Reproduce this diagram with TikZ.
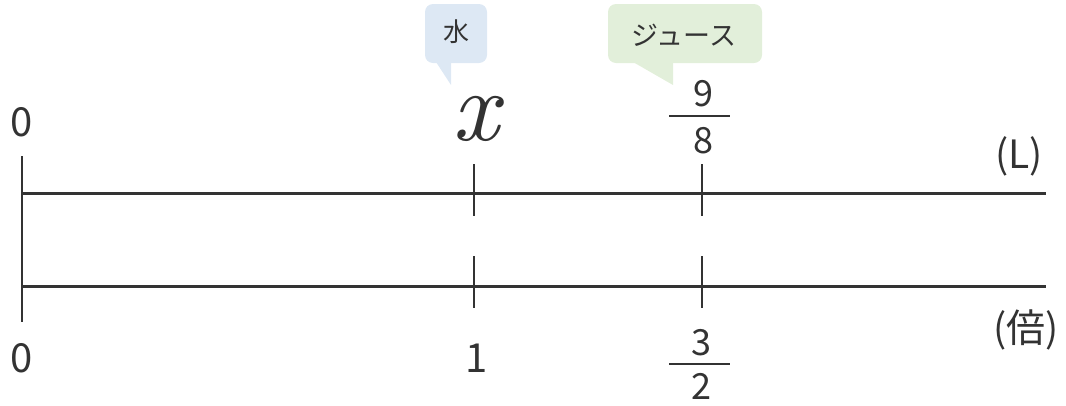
\documentclass[tikz,border=0pt]{standalone}
\usepackage{fontspec}
\setmainfont{Noto Sans CJK JP}
\newfontfamily\lmitalic{lmroman10-italic.otf}
\definecolor{ink}{HTML}{333333}
\definecolor{bluebg}{HTML}{DDE8F4}
\definecolor{greenbg}{HTML}{E2EFDA}
\begin{document}
\begin{tikzpicture}[x=1pt,y=-1pt,
  axisline/.style={line width=3pt, draw=ink},
  tickline/.style={line width=1.6pt, draw=ink},
  barline/.style={line width=1.4pt, draw=ink},
  numlbl/.style={text=ink, inner sep=0pt, font=\fontsize{40}{40}\selectfont},
  fraclbl/.style={text=ink, inner sep=0pt, font=\fontsize{36}{36}\selectfont},
  unitlbl/.style={text=ink, inner sep=0pt, font=\fontsize{39}{39}\selectfont},
  calltxt/.style={text=ink, inner sep=0pt}]
\useasboundingbox (0,0) rectangle (1066,405);
% axes
\coordinate (A0) at (22,193); \coordinate (A1) at (1046,193);
\coordinate (B0) at (22,286); \coordinate (B1) at (1046,286);
\coordinate (V0) at (22,156); \coordinate (V1) at (22,322);
\draw[axisline] (A0) -- (A1);
\draw[axisline] (B0) -- (B1);
\draw[tickline] (V0) -- (V1);
% ticks
\coordinate (t1a) at (474,164); \coordinate (t1b) at (474,216);
\coordinate (t2a) at (474,256); \coordinate (t2b) at (474,308);
\coordinate (t3a) at (702,164); \coordinate (t3b) at (702,216);
\coordinate (t4a) at (702,256); \coordinate (t4b) at (702,308);
\draw[tickline] (t1a) -- (t1b);
\draw[tickline] (t2a) -- (t2b);
\draw[tickline] (t3a) -- (t3b);
\draw[tickline] (t4a) -- (t4b);
% labels
\node[numlbl] (z0) at (22,122) {0};
\node[numlbl] (z1) at (22,358) {0};
\node[numlbl] (one) at (477,358) {1};
\node[text=ink, inner sep=0pt, font=\lmitalic\fontsize{100}{100}\selectfont] (xv) at (476,119) {x};
\node[unitlbl] (uL) at (1019,156) {(L)};
\node[unitlbl] (ub) at (1026,330) {(倍)};
% fractions
\node[fraclbl] (n9) at (703,94) {9};
\node[fraclbl] (n8) at (703,141) {8};
\coordinate (f1a) at (669,116); \coordinate (f1b) at (730,116);
\draw[barline] (f1a) -- (f1b);
\node[fraclbl] (n3) at (701,343) {3};
\node[fraclbl] (n2) at (701,386) {2};
\coordinate (f2a) at (669,364); \coordinate (f2b) at (730,364);
\draw[barline] (f2a) -- (f2b);
% callouts
\fill[bluebg, rounded corners=8pt] (425,4) rectangle (487,63);
\fill[bluebg] (436,62) -- (451,85) -- (451,62) -- cycle;
\node[calltxt, font=\fontsize{26}{26}\selectfont] (cw) at (456,32) {水};
\fill[greenbg, rounded corners=8pt] (608,4) rectangle (762,63);
\fill[greenbg] (633,62) -- (673,85) -- (673,62) -- cycle;
\node[calltxt, font=\fontsize{27}{27}\selectfont] (cj) at (684,35) {ジュース};
\end{tikzpicture}
\end{document}
